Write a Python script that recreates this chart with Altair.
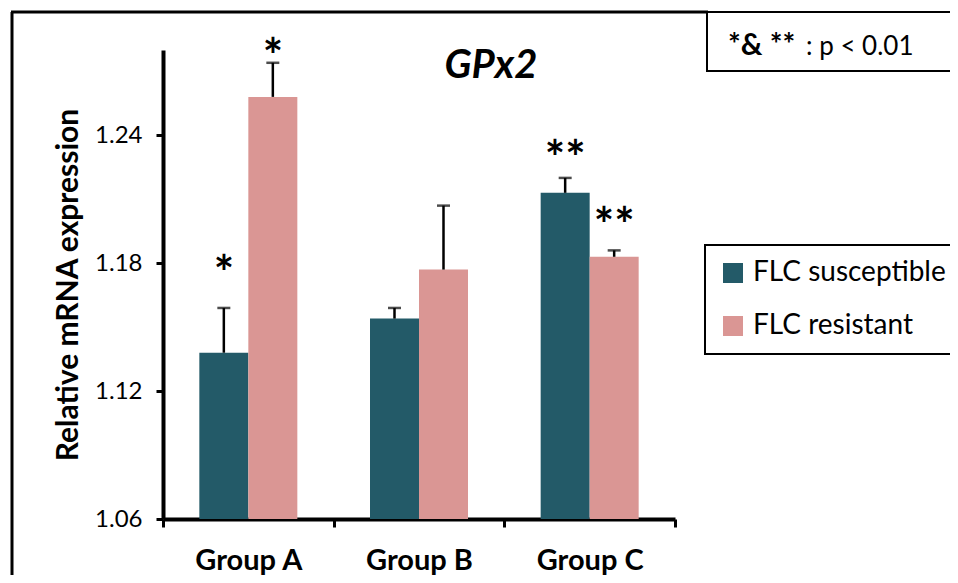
import altair as alt
import pandas as pd

groups = ["Group A", "Group B", "Group C"]
series = ["FLC susceptible", "FLC resistant"]
susceptible = [1.138, 1.154, 1.213]
resistant = [1.258, 1.177, 1.183]
susceptible_err = [0.021, 0.005, 0.007]
resistant_err = [0.016, 0.030, 0.003]
susceptible_stars = ["*", "", "**"]
resistant_stars = ["*", "", "**"]
susceptible_star_level = [1.180, 0.0, 1.234]
resistant_star_level = [1.282, 0.0, 1.2025]
y_ticks = [1.06, 1.12, 1.18, 1.24]
y_base = 1.06
colors = ["#235A68", "#DA9694"]

rows = []
for i, g in enumerate(groups):
    rows.append(dict(group=g, series=series[0], value=susceptible[i],
                     top=susceptible[i] + susceptible_err[i],
                     star=susceptible_stars[i], star_y=susceptible_star_level[i]))
    rows.append(dict(group=g, series=series[1], value=resistant[i],
                     top=resistant[i] + resistant_err[i],
                     star=resistant_stars[i], star_y=resistant_star_level[i]))
df = pd.DataFrame(rows)

FONT = "Lato"

x_enc = alt.X("group:N", sort=groups,
              scale=alt.Scale(paddingInner=0, paddingOuter=0),
              axis=alt.Axis(title=None, labelAngle=0, labelFont=FONT, labelFontSize=29,
                            labelFontWeight="bold", labelColor="black",
                            tickBand="extent", tickSize=8, tickWidth=3, tickColor="black",
                            domainWidth=4, domainColor="black", labelPadding=19))
xo_enc = alt.XOffset("series:N", sort=series,
                     scale=alt.Scale(paddingInner=0, paddingOuter=0.7415))
y_scale = alt.Scale(domain=[1.06, 1.28], zero=False, nice=False)

base = alt.Chart(df).encode(x=x_enc, xOffset=xo_enc)

bars = base.mark_bar(size=49).encode(
    y=alt.Y("value:Q", scale=y_scale,
            axis=alt.Axis(values=y_ticks, format=".2f", title="Relative mRNA expression",
                          titleFont=FONT, titleFontSize=30, titleFontWeight="bold",
                          titleColor="black", titlePadding=11,
                          labelFont=FONT, labelFontSize=24, labelColor="black",
                          labelPadding=14, tickSize=7, tickWidth=3, tickColor="black",
                          domainWidth=4, domainColor="black", grid=False)),
    y2=alt.datum(y_base),
    color=alt.Color("series:N", sort=series,
                    scale=alt.Scale(domain=series, range=colors),
                    legend=alt.Legend(title=None, orient="none", legendX=542, legendY=195,
                                      symbolType="square", symbolSize=400,
                                      symbolStrokeWidth=0, labelFont=FONT,
                                      labelFontSize=28, labelColor="black", labelLimit=400,
                                      labelOffset=6, rowPadding=25, padding=14,
                                      strokeColor="black")),
)

err_rule = base.mark_rule(color="black", strokeWidth=2.5).encode(
    y=alt.Y("value:Q", scale=y_scale), y2="top:Q")
err_cap = base.mark_tick(color="black", size=13, thickness=2.5).encode(
    y=alt.Y("top:Q", scale=y_scale))

stars = base.transform_filter(alt.datum.star != "").mark_text(
    font=FONT, fontSize=48, fontWeight="bold", color="black",
    align="center", baseline="alphabetic", dy=27).encode(
    y=alt.Y("star_y:Q", scale=y_scale), text="star:N")

one = alt.Data(values=[{"k": 1}])
frame_left = alt.Chart(one).mark_rule(color="black", strokeWidth=3).encode(
    x=alt.value(-151), y=alt.value(-38), y2=alt.value(540))
frame_top = alt.Chart(one).mark_rule(color="black", strokeWidth=3).encode(
    x=alt.value(-152), x2=alt.value(545), y=alt.value(-38))
note_box = alt.Chart(one).mark_rect(fill="white", stroke="black", strokeWidth=2).encode(
    x=alt.value(544), x2=alt.value(820), y=alt.value(-38), y2=alt.value(21))
note_bold = alt.Chart(one).mark_text(
    text="*& **", font=FONT, fontSize=30, fontWeight="bold", color="black",
    align="left", baseline="alphabetic").encode(x=alt.value(565), y=alt.value(5))
note_reg = alt.Chart(one).mark_text(
    text=": p < 0.01", font=FONT, fontSize=26, color="black",
    align="left", baseline="alphabetic").encode(x=alt.value(643), y=alt.value(5))
title = alt.Chart(one).mark_text(
    text="GPx2", font=FONT, fontSize=40, fontWeight="bold", fontStyle="italic",
    color="black", align="center", baseline="alphabetic").encode(
    x=alt.value(328), y=alt.value(28))

chart = alt.layer(
    bars, err_rule, err_cap, stars, frame_left, frame_top, note_box, note_bold, note_reg, title
).properties(
    width=512, height=469,
    autosize=alt.AutoSizeParams(type="none"),
    padding={"left": 155, "top": 42, "right": 275, "bottom": 56},
    background="white",
).configure_view(strokeWidth=0).configure_legend(strokeWidth=2)

chart.save("out.html", embed_options={"renderer": "svg", "actions": False})
